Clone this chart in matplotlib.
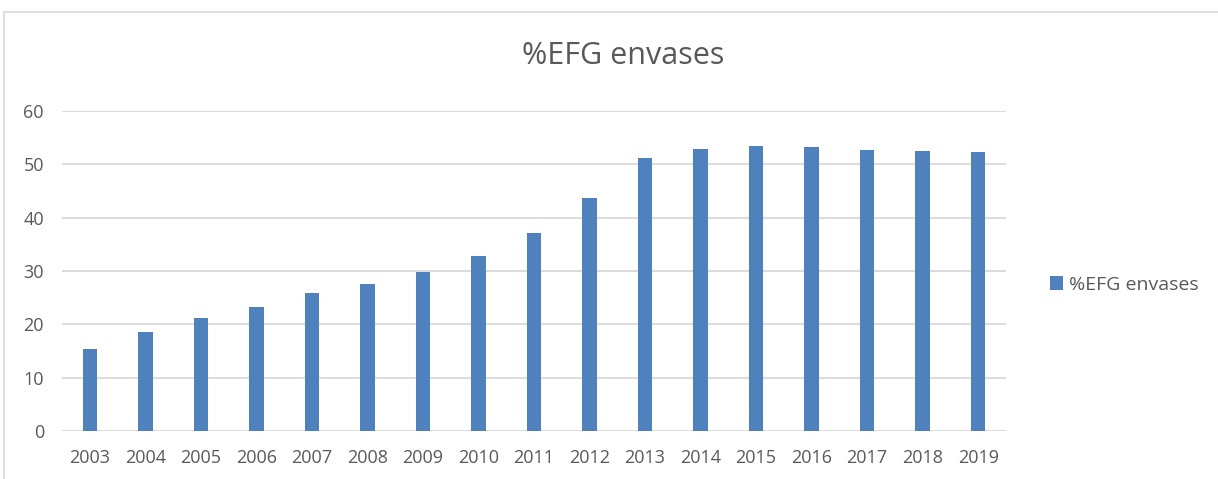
import matplotlib.pyplot as plt
from matplotlib.patches import Rectangle

years = ["2003", "2004", "2005", "2006", "2007", "2008", "2009", "2010", "2011",
         "2012", "2013", "2014", "2015", "2016", "2017", "2018", "2019"]
efg_envases = [15.4, 18.6, 21.1, 23.3, 25.8, 27.6, 29.8, 32.8, 37.2,
               43.6, 51.1, 52.8, 53.4, 53.3, 52.6, 52.5, 52.4]
series_name = "%EFG envases"

plt.rcParams['font.family'] = ['Open Sans', 'DejaVu Sans']
text_color = '#595959'
bar_color = '#4f81bd'
grid_color = '#d9d9d9'

fig = plt.figure(figsize=(12.18, 4.79), dpi=100)

# borde exterior del gráfico (cortado a la derecha y abajo)
fig.patches.append(Rectangle((4 / 1218, -0.1), 1.2, 1 - 12 / 479 + 0.1,
                             transform=fig.transFigure, fill=False,
                             edgecolor=grid_color, linewidth=1.2))

ax = fig.add_axes([62 / 1218, 1 - 431 / 479, (1006 - 62) / 1218, (431 - 111) / 479])

x = range(len(years))
ax.bar(x, efg_envases, width=0.26, color=bar_color, label=series_name, zorder=3)

ax.set_xlim(-0.5, len(years) - 0.5)
ax.set_ylim(0, 60)
ax.set_yticks(range(0, 61, 10))
ax.set_xticks(list(x))
ax.set_xticklabels(years)
ax.yaxis.grid(True, color=grid_color, linewidth=1.3, zorder=0)
ax.set_axisbelow(True)
for s in ax.spines.values():
    s.set_visible(False)
ax.tick_params(axis='both', length=0, labelsize=13, colors=text_color)
ax.tick_params(axis='y', pad=13)
ax.tick_params(axis='x', pad=13)

fig.text(623 / 1218, 1 - 56 / 479, series_name, ha='center', va='center',
         fontsize=22, color=text_color)

leg = fig.legend(loc='center left', bbox_to_anchor=(1032 / 1218, 1 - 285 / 479),
                 frameon=False, fontsize=14, handlelength=0.7, handleheight=0.7,
                 handletextpad=0.3, labelcolor=text_color)

plt.savefig("out.png", dpi=100)
plt.close()
